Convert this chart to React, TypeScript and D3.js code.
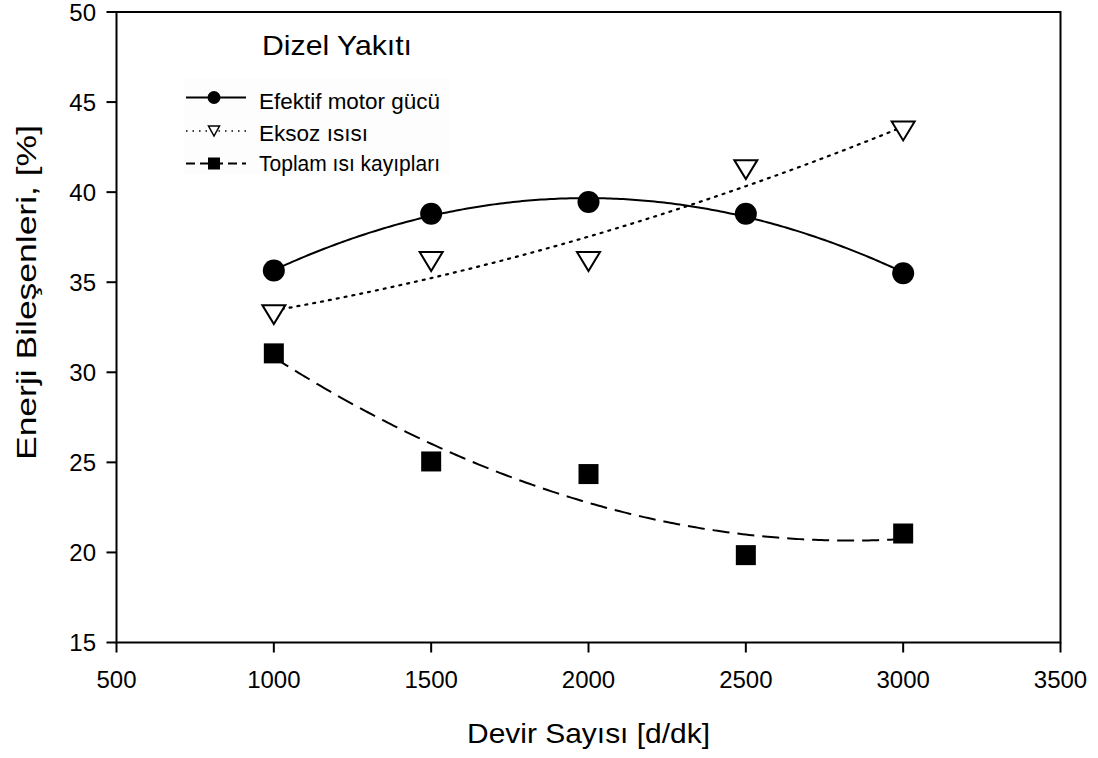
import React from "react";
import * as d3 from "d3";

const rpm = [1000, 1500, 2000, 2500, 3000];
const efektifMotorGucu = [35.65, 38.8, 39.45, 38.8, 35.5];
const eksozIsisi = [33.2, 36.15, 36.15, 41.25, 43.4];
const toplamIsiKayiplari = [31.05, 25.05, 24.35, 19.85, 21.05];
const xTicks = [500, 1000, 1500, 2000, 2500, 3000, 3500];
const yTicks = [15, 20, 25, 30, 35, 40, 45, 50];
const seriesNames = ["Efektif motor gücü", "Eksoz ısısı", "Toplam ısı kayıpları"];
const chartTitle = "Dizel Yakıtı";
const xTitle = "Devir Sayısı [d/dk]";
const yTitle = "Enerji Bileşenleri, [%]";

const FONT = "'Liberation Sans', Arial, Helvetica, sans-serif";

// least-squares quadratic regression (as drawn by the original plotting tool)
function quadFit(xs: number[], ys: number[]) {
  const mx = d3.mean(xs) as number;
  const t = xs.map((x) => x - mx);
  const S = (p: number) => d3.sum(t, (v) => Math.pow(v, p));
  const Sy = (p: number) => d3.sum(t, (v, i) => Math.pow(v, p) * ys[i]);
  const M = [
    [S(0), S(1), S(2), Sy(0)],
    [S(1), S(2), S(3), Sy(1)],
    [S(2), S(3), S(4), Sy(2)],
  ];
  for (let i = 0; i < 3; i++) {
    let p = i;
    for (let r = i + 1; r < 3; r++) if (Math.abs(M[r][i]) > Math.abs(M[p][i])) p = r;
    [M[i], M[p]] = [M[p], M[i]];
    for (let r = 0; r < 3; r++) {
      if (r === i) continue;
      const f = M[r][i] / M[i][i];
      for (let c = i; c < 4; c++) M[r][c] -= f * M[i][c];
    }
  }
  const a = M[0][3] / M[0][0];
  const b = M[1][3] / M[1][1];
  const c = M[2][3] / M[2][2];
  return (x: number) => {
    const u = x - mx;
    return a + b * u + c * u * u;
  };
}

const W = 1098;
const H = 758;
const x = d3.scaleLinear().domain([500, 3500]).range([116.5, 1060.5]);
const y = d3.scaleLinear().domain([15, 50]).range([642.5, 12]);

export default function App() {
  const series = [efektifMotorGucu, eksozIsisi, toplamIsiKayiplari];
  const dashes = [undefined, "2,6", "17,8"];
  const [x0, x1] = d3.extent(rpm) as [number, number];
  const samples = d3.range(x0, x1 + 0.001, 10);
  const line = d3
    .line<number[]>()
    .x((d) => x(d[0]))
    .y((d) => y(d[1]))
    .curve(d3.curveLinear);

  const curves = series.map((ys) => {
    const f = quadFit(rpm, ys);
    return line(samples.map((s) => [s, f(s)]));
  });

  const marker = (k: number, cx: number, cy: number, big: boolean, key: string) => {
    if (k === 0) return <circle key={key} cx={cx} cy={cy} r={big ? 11 : 6.5} fill="#000" />;
    if (k === 1) {
      const hw = big ? 11.5 : 5.5;
      const hh = big ? 9.5 : 5;
      return (
        <path
          key={key}
          d={`M${cx - hw},${cy - hh}L${cx + hw},${cy - hh}L${cx},${cy + hh}Z`}
          fill="#fff"
          stroke="#000"
          strokeWidth={big ? 2 : 1.5}
          strokeLinejoin="miter"
        />
      );
    }
    const s = big ? 20 : 12;
    return <rect key={key} x={cx - s / 2} y={cy - s / 2} width={s} height={s} fill="#000" />;
  };

  const legendLineY = [97.5, 131, 163.5];
  const legendTextY = [108.5, 141, 171];
  const legendTextLen = [181, 109, 181];
  const legendDash = [undefined, "1.5,5", "9,5"];

  return (
    <div style={{ position: "absolute", left: 0, top: 0 }}>
      <svg width={W} height={H} style={{ display: "block", background: "#fff" }} fontFamily={FONT}>
        <rect x={0} y={0} width={W} height={H} fill="#fff" />
        {/* curves */}
        {curves.map((d, i) => (
          <path
            key={"c" + i}
            d={d || ""}
            fill="none"
            stroke="#000"
            strokeWidth={i === 1 ? 2.2 : 2}
            strokeDasharray={dashes[i]}
            strokeLinecap={i === 1 ? "round" : "butt"}
          />
        ))}
        {/* markers */}
        {series.map((ys, k) => rpm.map((r, i) => marker(k, x(r), y(ys[i]), true, `m${k}-${i}`)))}

        {/* frame */}
        <rect
          x={x(500)}
          y={y(50)}
          width={x(3500) - x(500)}
          height={y(15) - y(50)}
          fill="none"
          stroke="#000"
          strokeWidth={2}
        />
        {/* x ticks */}
        {xTicks.map((t) => (
          <g key={"xt" + t}>
            <line x1={x(t)} x2={x(t)} y1={y(15)} y2={y(15) + 10} stroke="#000" strokeWidth={2} />
            <text x={x(t)} y={688} fontSize={24} textAnchor="middle" fill="#000">
              {t}
            </text>
          </g>
        ))}
        {/* y ticks */}
        {yTicks.map((t) => (
          <g key={"yt" + t}>
            <line x1={x(500) - 10} x2={x(500)} y1={y(t)} y2={y(t)} stroke="#000" strokeWidth={2} />
            <text x={96} y={y(t)} dy="0.36em" fontSize={24} textAnchor="end" fill="#000">
              {t}
            </text>
          </g>
        ))}
        {/* axis titles */}
        <text
          x={(x(500) + x(3500)) / 2}
          y={743}
          fontSize={28}
          textAnchor="middle"
          textLength={243}
          lengthAdjust="spacingAndGlyphs"
          fill="#000"
        >
          {xTitle}
        </text>
        <text
          transform="translate(36,292.5) rotate(-90)"
          fontSize={28}
          textAnchor="middle"
          textLength={335}
          lengthAdjust="spacingAndGlyphs"
          fill="#000"
        >
          {yTitle}
        </text>

        {/* legend */}
        <rect x={184} y={78} width={266} height={96} fill="#fdfdfd" />
        <text x={262} y={55} fontSize={28} textLength={150} lengthAdjust="spacingAndGlyphs" fill="#000">
          {chartTitle}
        </text>
        {seriesNames.map((name, k) => (
          <g key={"lg" + k}>
            <line
              x1={186}
              x2={246}
              y1={legendLineY[k]}
              y2={legendLineY[k]}
              stroke="#000"
              strokeWidth={k === 1 ? 1.6 : 2}
              strokeDasharray={legendDash[k]}
            />
            {marker(k, 214, legendLineY[k], false, "lm" + k)}
            <text
              x={259}
              y={legendTextY[k]}
              fontSize={22}
              textLength={legendTextLen[k]}
              lengthAdjust="spacingAndGlyphs"
              fill="#000"
            >
              {name}
            </text>
          </g>
        ))}
      </svg>
    </div>
  );
}
